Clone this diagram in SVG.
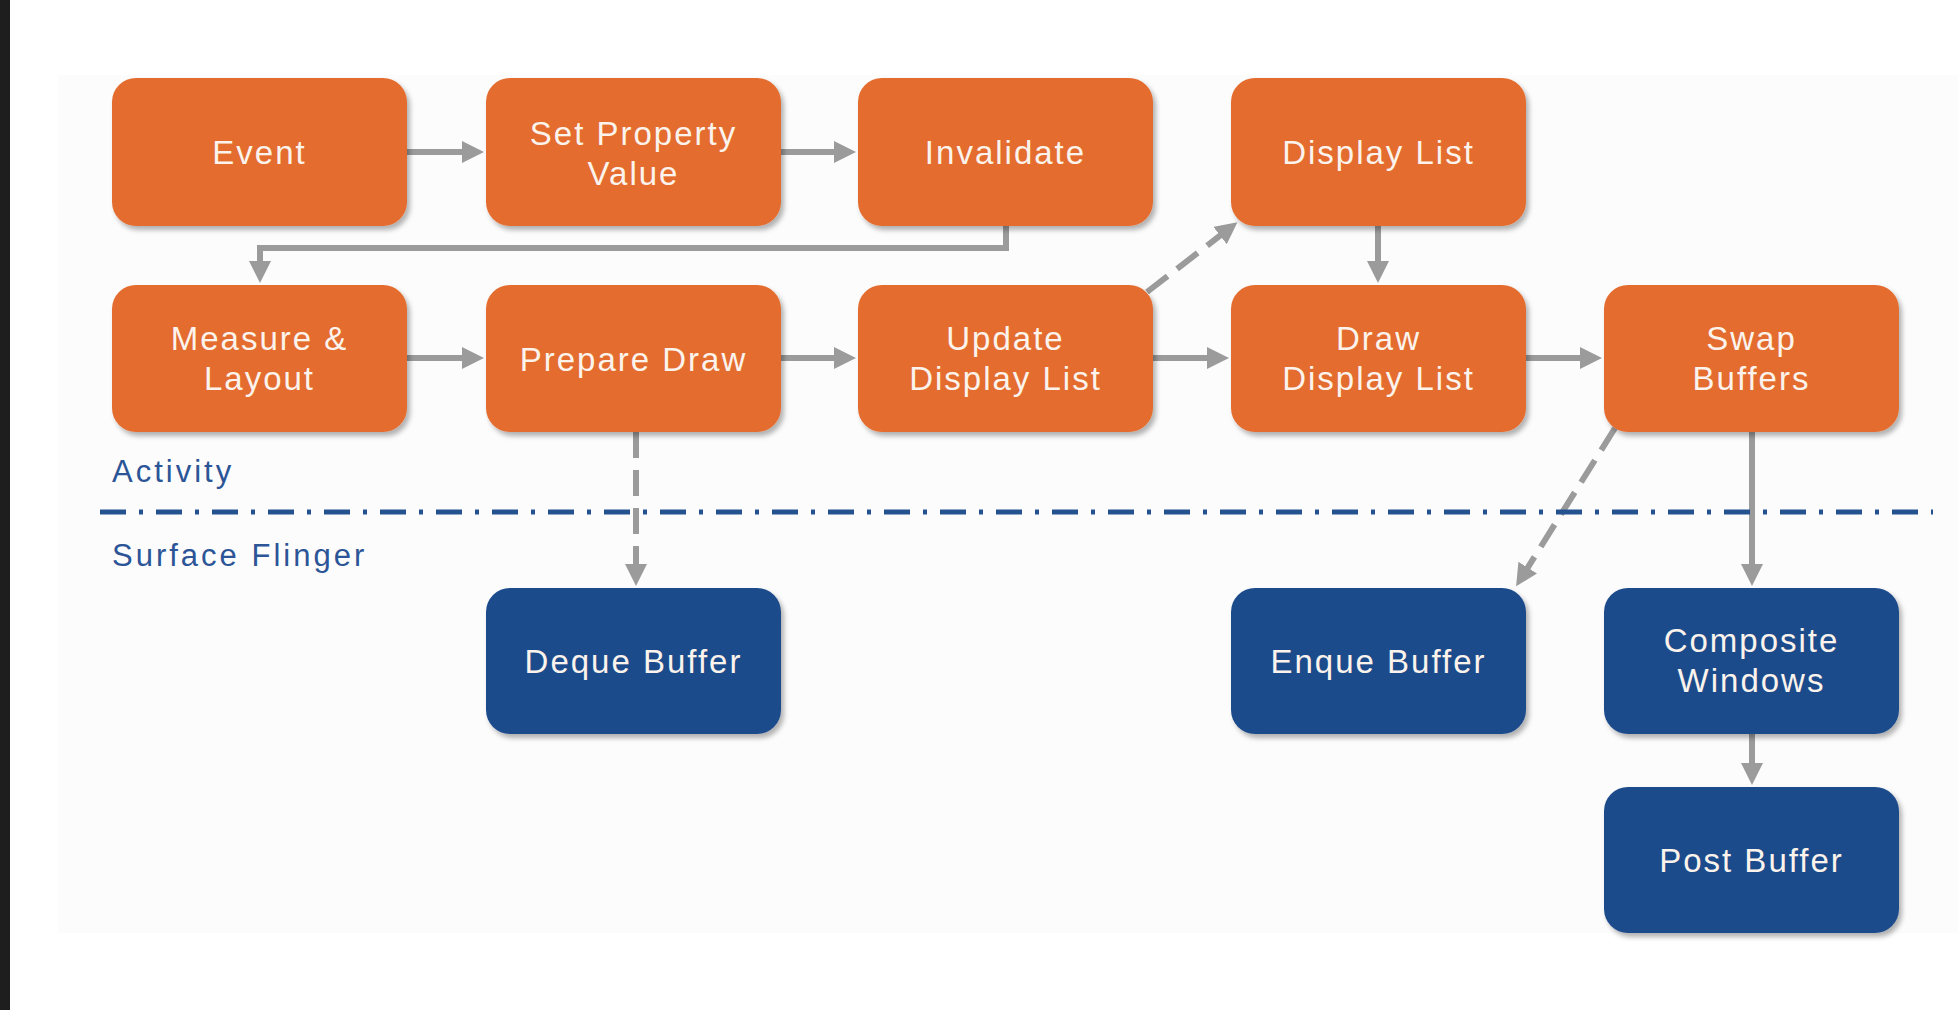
<svg xmlns="http://www.w3.org/2000/svg" width="1958" height="1010" viewBox="0 0 1958 1010">
<style>
.bg{fill:#ffffff}
.act rect{fill:#E36C2E;filter:url(#sh)}
.sf rect{fill:#1F4B8B;filter:url(#sh)}
.node text{font-family:"Liberation Sans",Arial,sans-serif;font-size:33px;fill:#FBF3EC;text-anchor:middle;letter-spacing:2px}
.lbl{font-family:"Liberation Sans",Arial,sans-serif;font-size:31px;fill:#2C5597;letter-spacing:3px}
.c{fill:none;stroke:#9B9B9B;stroke-width:6;marker-end:url(#ah)}
.d{stroke-dasharray:26 12}
.sep{stroke:#24518F;stroke-width:5;stroke-dasharray:26 13 4 13;fill:none}
</style>
<defs>
<filter id="sh" x="-10%" y="-10%" width="125%" height="130%">
<feDropShadow dx="3" dy="4" stdDeviation="2.5" flood-color="#000" flood-opacity="0.3"/>
</filter>
<marker id="ah" markerUnits="userSpaceOnUse" markerWidth="24" markerHeight="24" refX="2" refY="11" orient="auto">
<path d="M0,0 L22,11 L0,22 Z" fill="#9B9B9B"/>
</marker>
</defs>
<rect class="bg" x="0" y="0" width="1958" height="1010"/>
<rect x="58" y="75" width="1900" height="858" fill="#FCFCFC"/>
<rect x="0" y="0" width="10" height="1010" fill="#1E1E1E"/>

<g id="connectors">
<path class="c" d="M407,152 H464"/>
<path class="c" d="M781,152 H836"/>
<path class="c" d="M1006,226 V248 H260 V263"/>
<path class="c" d="M407,358 H464"/>
<path class="c" d="M781,358 H836"/>
<path class="c" d="M1153,358 H1209"/>
<path class="c" d="M1526,358 H1582"/>
<path class="c d" d="M1147,292 L1221.6,234.4"/>
<path class="c" d="M1378,226 V263"/>
<path class="c d" d="M636,432 V566"/>
<path class="c d" d="M1615,428 L1526.7,569.3"/>
<path class="c" d="M1752,432 V566"/>
<path class="c" d="M1752,734 V765"/>
</g>

<g id="separator">
<path class="sep" d="M100,512 H1933"/>
<text class="lbl" x="112" y="482">Activity</text>
<text class="lbl" x="112" y="566">Surface Flinger</text>
</g>

<g id="n-event" class="node act"><rect x="112" y="78" width="295" height="148" rx="24"/><text x="259.5" y="164">Event</text></g>
<g id="n-setprop" class="node act"><rect x="486" y="78" width="295" height="148" rx="24"/><text x="633.5" y="145">Set Property<tspan x="633.5" dy="40">Value</tspan></text></g>
<g id="n-invalidate" class="node act"><rect x="858" y="78" width="295" height="148" rx="24"/><text x="1005.5" y="164">Invalidate</text></g>
<g id="n-displaylist" class="node act"><rect x="1231" y="78" width="295" height="148" rx="24"/><text x="1378.5" y="164">Display List</text></g>

<g id="n-measure" class="node act"><rect x="112" y="285" width="295" height="147" rx="24"/><text x="259.5" y="350">Measure &amp;<tspan x="259.5" dy="40">Layout</tspan></text></g>
<g id="n-prepare" class="node act"><rect x="486" y="285" width="295" height="147" rx="24"/><text x="633.5" y="371">Prepare Draw</text></g>
<g id="n-update" class="node act"><rect x="858" y="285" width="295" height="147" rx="24"/><text x="1005.5" y="350">Update<tspan x="1005.5" dy="40">Display List</tspan></text></g>
<g id="n-draw" class="node act"><rect x="1231" y="285" width="295" height="147" rx="24"/><text x="1378.5" y="350">Draw<tspan x="1378.5" dy="40">Display List</tspan></text></g>
<g id="n-swap" class="node act"><rect x="1604" y="285" width="295" height="147" rx="24"/><text x="1751.5" y="350">Swap<tspan x="1751.5" dy="40">Buffers</tspan></text></g>

<g id="n-deque" class="node sf"><rect x="486" y="588" width="295" height="146" rx="24"/><text x="633.5" y="673">Deque Buffer</text></g>
<g id="n-enque" class="node sf"><rect x="1231" y="588" width="295" height="146" rx="24"/><text x="1378.5" y="673">Enque Buffer</text></g>
<g id="n-composite" class="node sf"><rect x="1604" y="588" width="295" height="146" rx="24"/><text x="1751.5" y="652">Composite<tspan x="1751.5" dy="40">Windows</tspan></text></g>
<g id="n-post" class="node sf"><rect x="1604" y="787" width="295" height="146" rx="24"/><text x="1751.5" y="872">Post Buffer</text></g>
</svg>
